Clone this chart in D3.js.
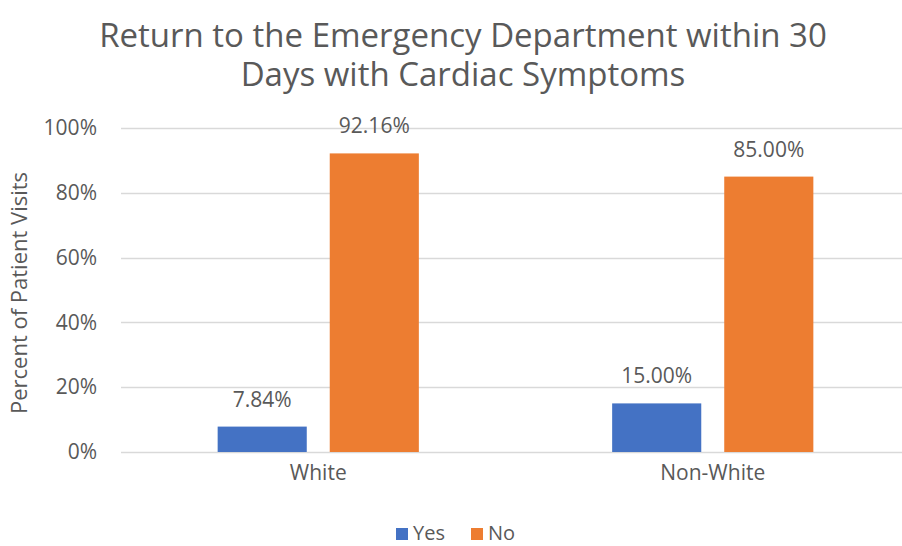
<!DOCTYPE html>
<html>
<head>
<meta charset="utf-8">
<script src="https://cdn.jsdelivr.net/npm/d3@7"></script>
<style>
  body { margin: 0; background: #fff; }
  svg { display: block; font-family: "Open Sans", sans-serif; }
  text { fill: #595959; }
</style>
</head>
<body>
<script>
var categories = ["White", "Non-White"];
var series = ["Yes", "No"];
var yesValues = [0.0784, 0.15];
var noValues = [0.9216, 0.85];
var yTicks = [0, 0.2, 0.4, 0.6, 0.8, 1.0];
var titleLines = ["Return to the Emergency Department within 30", "Days with Cardiac Symptoms"];

var colors = {Yes: "#4472C4", No: "#ED7D31"};

var width = 902, height = 546;

var svg = d3.select("body").append("svg")
    .attr("width", width)
    .attr("height", height);

var x0 = d3.scaleBand()
    .domain(categories)
    .range([121, 910])
    .paddingInner(0.49)
    .paddingOuter(0.245);

var x1 = d3.scaleBand()
    .domain(series)
    .range([0, x0.bandwidth()])
    .paddingInner(0.205);

var y = d3.scaleLinear()
    .domain([0, 1])
    .range([452, 128]);

// gridlines
svg.append("g").selectAll("line")
    .data(yTicks)
    .enter().append("line")
    .attr("x1", 121)
    .attr("x2", width)
    .attr("y1", function(d) { return Math.round(y(d)) + 0.5; })
    .attr("y2", function(d) { return Math.round(y(d)) + 0.5; })
    .attr("stroke", "#d9d9d9")
    .attr("stroke-width", 1.5);

// y axis labels
var yAxis = svg.append("g")
    .attr("transform", "translate(106,0)")
    .call(d3.axisLeft(y).tickValues(yTicks).tickSize(0).tickPadding(9)
        .tickFormat(d3.format(".0%")));
yAxis.select(".domain").remove();
yAxis.selectAll("text")
    .attr("fill", "#595959")
    .style("font-size", "21px")
    .style("font-family", "'Open Sans', sans-serif");

// x axis labels
var xAxis = svg.append("g")
    .attr("transform", "translate(0,465)")
    .call(d3.axisBottom(x0).tickSize(0).tickPadding(0));
xAxis.select(".domain").remove();
xAxis.selectAll("text")
    .attr("fill", "#595959")
    .attr("dy", "0.71em")
    .style("font-size", "21px")
    .style("font-family", "'Open Sans', sans-serif");

var rows = categories.map(function(c, i) {
    return {category: c, values: [
        {key: "Yes", value: yesValues[i]},
        {key: "No", value: noValues[i]}
    ]};
});

var groups = svg.selectAll(".group")
    .data(rows)
    .enter().append("g")
    .attr("class", "group")
    .attr("transform", function(d) { return "translate(" + x0(d.category) + ",0)"; });

groups.selectAll("rect")
    .data(function(d) { return d.values; })
    .enter().append("rect")
    .attr("x", function(d) { return x1(d.key); })
    .attr("y", function(d) { return y(d.value); })
    .attr("width", x1.bandwidth())
    .attr("height", function(d) { return y(0) - y(d.value); })
    .attr("fill", function(d) { return colors[d.key]; });

groups.selectAll(".label")
    .data(function(d) { return d.values; })
    .enter().append("text")
    .attr("class", "label")
    .attr("x", function(d) { return x1(d.key) + x1.bandwidth() / 2; })
    .attr("y", function(d) { return y(d.value) - 20; })
    .attr("text-anchor", "middle")
    .style("font-size", "21px")
    .text(function(d) { return d3.format(".2%")(d.value); });

// y axis title
svg.append("text")
    .attr("transform", "translate(27,293) rotate(-90)")
    .attr("text-anchor", "middle")
    .style("font-size", "22px")
    .text("Percent of Patient Visits");

// title
svg.append("g").selectAll("text")
    .data(titleLines)
    .enter().append("text")
    .attr("x", 463)
    .attr("y", function(d, i) { return 47 + i * 39; })
    .attr("text-anchor", "middle")
    .style("font-size", "33px")
    .text(function(d) { return d; });

// legend
var legend = svg.append("g").selectAll("g")
    .data(series)
    .enter().append("g")
    .attr("transform", function(d, i) { return "translate(" + (396 + i * 75) + ",528)"; });
legend.append("rect")
    .attr("width", 12)
    .attr("height", 12)
    .attr("fill", function(d) { return colors[d]; });
legend.append("text")
    .attr("x", 17)
    .attr("y", 12)
    .style("font-size", "20px")
    .text(function(d) { return d; });
</script>
</body>
</html>
